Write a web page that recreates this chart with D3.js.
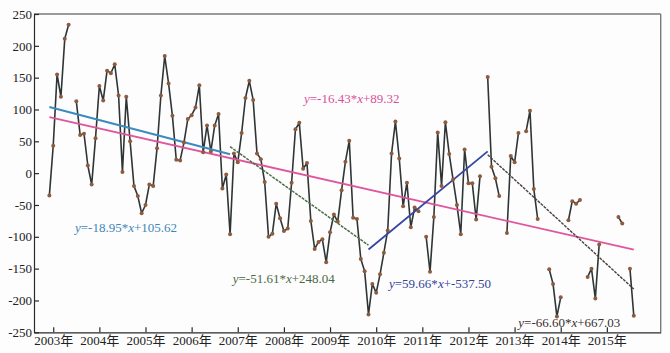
<!DOCTYPE html>
<html>
<head>
<meta charset="utf-8">
<script src="https://cdn.jsdelivr.net/npm/d3@7"></script>
<style>
  body { margin: 0; background: #fff; }
</style>
</head>
<body>
<div id="chart"></div>
<script>
'use strict';

// monthly values, Dec 2002 .. Aug 2015 (null = no data)
const values = [
  -35, 43, 155, 120, 211, 233, null, 113, 60, 62, 12, -18,
  55, 137, 114, 161, 157, 171, 122, 2, 120, 50, -20, -36,
  -63, -50, -18, -20, 39, 122, 184, 141, 90, 21, 20, 48,
  85, 91, 103, 138, 33, 75, 34, 75, 93, -24, -2, -96,
  31, 17, 63, 118, 145, 115, 31, 22, -14, -100, -95, -48,
  -71, -91, -87, -15, 69, 79, 7, 16, -75, -119, -108, -104,
  -140, -93, -65, -76, -27, 18, 51, -70, -72, -135, -154, -222,
  -174, -188, -159, -125, -90, 31, 81, 23, -52, -15, -85, -54,
  -60, null, -100, -155, -69, 64, -20, 80, 30, -10, -50, -96,
  37, -16, -16, -73, -5, null, 151, 10, -8, -36, null, -94,
  27, 17, 63, null, 66, 98, -25, -72, null, null, -151, -174,
  -225, -195, null, -74, -44, -48, -42, null, -163, -150, -197, -112,
  null, null, null, null, -69, -79, null, -150, -224
];

const years = [2003, 2004, 2005, 2006, 2007, 2008, 2009, 2010, 2011, 2012, 2013, 2014, 2015];
const yTicks = [250, 200, 150, 100, 50, 0, -50, -100, -150, -200, -250];

// fitted trends, x in years from the start (x = (month index + 1) / 12)
const fitNames = ['all', 'p1', 'p2', 'p3', 'p4'];
const fitSlopes = [-16.43, -18.95, -51.61, 59.66, -66.60];
const fitIntercepts = [89.32, 105.62, 248.04, -537.50, 667.03];
const fitStarts = [1 / 12, 1 / 12, 4, 7, 115 / 12];
const fitEnds = [153 / 12, 4, 7, 115 / 12, 153 / 12];

const FONT = '"Liberation Serif", "Times New Roman", "DejaVu Serif", "Noto Sans CJK SC", serif';

const width = 670, height = 353;
const margin = { top: 14, right: 9.3, bottom: 20.7, left: 34 };
const innerWidth = width - margin.left - margin.right;
const innerHeight = height - margin.top - margin.bottom;

const fitStyle = {
  all: { stroke: '#e0559c', width: 1.8, dash: null, text: '#d9509a', tx: 270, ty: 89 },
  p1:  { stroke: '#3b8ac0', width: 2, dash: null, text: '#3d86b8', tx: 41, ty: 217.7 },
  p2:  { stroke: '#4e6e49', width: 1.5, dash: '3,1', text: '#4a6a44', tx: 198.7, ty: 269.3 },
  p3:  { stroke: '#3646a0', width: 1.8, dash: null, text: '#34449a', tx: 355, ty: 274.3 },
  p4:  { stroke: '#4b3f3f', width: 1.4, dash: '3,1', text: '#3a2f2f', tx: 484.3, ty: 312.7 }
};

// plain hyphen for negatives, as in the original
const hyphen = (s) => s.replace('\u2212', '-');
const fmt = (v) => hyphen(d3.format('.2f')(v));

const svg = d3.select('#chart').append('svg')
  .attr('width', width)
  .attr('height', height)
  .attr('font-family', FONT)
  .style('display', 'block');

svg.append('rect').attr('width', width).attr('height', height).attr('fill', '#fdfdfd');

const graph = svg.append('g')
  .attr('transform', 'translate(' + margin.left + ',' + margin.top + ')');

const x = d3.scaleLinear().domain([-4, 159]).range([0, innerWidth]);
const y = d3.scaleLinear().domain([-250, 250]).range([innerHeight, 0]);

// frame: top and right in grey
graph.append('line')
  .attr('x1', 0).attr('x2', innerWidth).attr('y1', 0).attr('y2', 0)
  .attr('stroke', '#7a7a7a').attr('stroke-width', 1.6);
graph.append('line')
  .attr('x1', innerWidth).attr('x2', innerWidth).attr('y1', 0).attr('y2', innerHeight)
  .attr('stroke', '#7a7a7a').attr('stroke-width', 1.4);

// axes
const yAxis = d3.axisLeft(y)
  .tickValues(yTicks)
  .tickFormat((d) => String(d))
  .tickSizeInner(-5).tickSizeOuter(0).tickPadding(2);
const xAxis = d3.axisBottom(x)
  .tickValues(years.map((yr) => (yr - 2003) * 12 + 1))
  .tickFormat((d, i) => years[i] + '年')
  .tickSizeInner(-5).tickSizeOuter(0).tickPadding(3.5);

const gy = graph.append('g').attr('class', 'y axis').call(yAxis);
const gx = graph.append('g').attr('class', 'x axis')
  .attr('transform', 'translate(0,' + innerHeight + ')')
  .call(xAxis);

[gx, gy].forEach((g) => {
  g.attr('font-family', FONT).attr('font-size', 13);
  g.selectAll('path, line').attr('stroke', '#2a2a2a').attr('stroke-width', 1.2);
  g.selectAll('text').attr('fill', '#222');
});

// data series
const series = values.map((v, i) => ({ i: i, v: v }));

const line = d3.line()
  .defined((d) => d.v !== null)
  .x((d) => x(d.i))
  .y((d) => y(d.v));

graph.append('path')
  .datum(series)
  .attr('d', line)
  .attr('fill', 'none')
  .attr('stroke', '#2f3535')
  .attr('stroke-width', 1.6)
  .attr('stroke-linejoin', 'round');

// trend lines, drawn over the series
const monthOf = (t) => t * 12 - 1;
fitNames.forEach((name, k) => {
  const st = fitStyle[name];
  const pts = [fitStarts[k], fitEnds[k]].map((t) => [x(monthOf(t)), y(fitSlopes[k] * t + fitIntercepts[k])]);
  graph.append('path')
    .attr('d', d3.line()(pts))
    .attr('fill', 'none')
    .attr('stroke', st.stroke)
    .attr('stroke-width', st.width)
    .attr('stroke-dasharray', st.dash);
});

graph.selectAll('circle.pt')
  .data(series.filter((d) => d.v !== null))
  .enter().append('circle')
  .attr('class', 'pt')
  .attr('cx', (d) => x(d.i))
  .attr('cy', (d) => y(d.v))
  .attr('r', 2)
  .attr('fill', '#8d5b3e');

// equation labels
fitNames.forEach((name, k) => {
  const st = fitStyle[name];
  const t = graph.append('text')
    .attr('x', st.tx)
    .attr('y', st.ty)
    .attr('fill', st.text)
    .attr('font-size', 13);
  t.append('tspan').attr('font-style', 'italic').text('y');
  t.append('tspan').text('=' + fmt(fitSlopes[k]) + '*');
  t.append('tspan').attr('font-style', 'italic').text('x');
  t.append('tspan').text('+' + fmt(fitIntercepts[k]));
});
</script>
</body>
</html>
